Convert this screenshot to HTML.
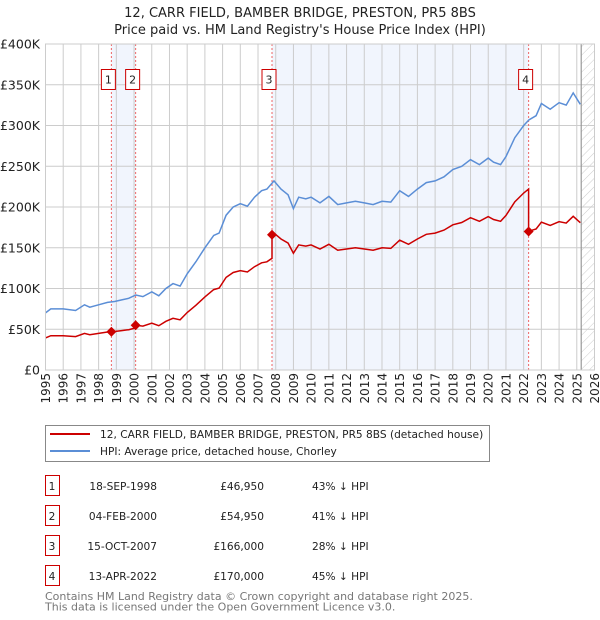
<!DOCTYPE html>
<html><head><meta charset="utf-8"><style>
html,body{margin:0;padding:0;background:#fff}
svg{display:block;font-family:"DejaVu Sans","Liberation Sans",sans-serif}
</style></head><body>
<svg id="chart" width="600" height="620" viewBox="0 0 600 620">
<defs>
<pattern id="hatch" width="6" height="6" patternUnits="userSpaceOnUse" patternTransform="rotate(45)">
<line x1="0" y1="0" x2="0" y2="6" stroke="#ccc" stroke-width="1"/>
</pattern>
</defs>
<text x="300" y="17" text-anchor="middle" font-size="13" fill="#222">12, CARR FIELD, BAMBER BRIDGE, PRESTON, PR5 8BS</text>
<text x="300" y="34" text-anchor="middle" font-size="13" fill="#222">Price paid vs. HM Land Registry's House Price Index (HPI)</text>
<g id="plot"></g>
<g>
<rect x="45.5" y="425.5" width="444" height="36" fill="#fff" stroke="#888"/>
<line x1="50" y1="434" x2="90" y2="434" stroke="#cc0000" stroke-width="2"/>
<text x="100" y="438" font-size="10.6" fill="#222">12, CARR FIELD, BAMBER BRIDGE, PRESTON, PR5 8BS (detached house)</text>
<line x1="50" y1="451" x2="90" y2="451" stroke="#5b8ed6" stroke-width="2"/>
<text x="100" y="455" font-size="10.6" fill="#222">HPI: Average price, detached house, Chorley</text>
</g>
<g id="table"></g>
<text x="45" y="600" font-size="11" fill="#777">Contains HM Land Registry data © Crown copyright and database right 2025.</text>
<text x="45" y="610.5" font-size="11" fill="#777">This data is licensed under the Open Government Licence v3.0.</text>
</svg>
<script>
const hpiYears = [1995.0,1995.3,1996.0,1996.7,1997.2,1997.5,1998.0,1998.5,1998.9,1999.3,1999.7,2000.1,2000.5,2001.0,2001.4,2001.8,2002.2,2002.6,2003.0,2003.5,2004.0,2004.5,2004.8,2005.2,2005.6,2006.0,2006.4,2006.8,2007.2,2007.5,2007.9,2008.3,2008.7,2009.0,2009.3,2009.7,2010.0,2010.5,2011.0,2011.5,2012.0,2012.5,2013.0,2013.5,2014.0,2014.5,2015.0,2015.5,2016.0,2016.5,2017.0,2017.5,2018.0,2018.5,2019.0,2019.5,2020.0,2020.3,2020.7,2021.0,2021.5,2022.0,2022.3,2022.7,2023.0,2023.5,2024.0,2024.4,2024.8,2025.2];
const hpiValues = [70,75,75,73,80,77,80,83,84,86,88,92,90,96,91,100,106,103,118,133,150,165,168,190,200,204,201,212,220,222,232,222,215,198,212,210,212,205,213,203,205,207,205,203,207,206,220,213,222,230,232,237,246,250,258,252,260,255,252,262,285,300,307,312,327,320,328,325,340,326];
const saleDates = [1998.72,2000.09,2007.79,2022.28];
const salePrices = [46950,54950,166000,170000];
const saleLabels = ["1","2","3","4"];
const saleDateText = ["18-SEP-1998","04-FEB-2000","15-OCT-2007","13-APR-2022"];
const salePriceText = ["£46,950","£54,950","£166,000","£170,000"];
const saleHpiText = ["43% ↓ HPI","41% ↓ HPI","28% ↓ HPI","45% ↓ HPI"];
const yTicks = [0,50,100,150,200,250,300,350,400];
const yTickLabels = ["£0","£50K","£100K","£150K","£200K","£250K","£300K","£350K","£400K"];
const xTicks = [1995,1996,1997,1998,1999,2000,2001,2002,2003,2004,2005,2006,2007,2008,2009,2010,2011,2012,2013,2014,2015,2016,2017,2018,2019,2020,2021,2022,2023,2024,2025,2026];
const dataEnd = 2025.25;

const NS="http://www.w3.org/2000/svg";
const L=45.5,R=594.5,T=44,B=370;
const X=t=>L+(t-1995)/(2026-1995)*(R-L);
const Y=v=>B-v/400*(B-T);
const plot=document.getElementById('plot');
function mk(tag,attrs,parent){const e=document.createElementNS(NS,tag);for(const k in attrs)e.setAttribute(k,attrs[k]);(parent||plot).appendChild(e);return e;}
function hpiAt(t){for(let i=0;i<hpiYears.length-1;i++){if(t<=hpiYears[i+1]){const f=(t-hpiYears[i])/(hpiYears[i+1]-hpiYears[i]);return hpiValues[i]+f*(hpiValues[i+1]-hpiValues[i]);}}return hpiValues[hpiValues.length-1];}

for(let i=0;i<saleDates.length;i+=2){
 const r=mk('rect',{x:X(saleDates[i]),y:T,width:X(saleDates[i+1])-X(saleDates[i]),height:B-T,fill:'#eef3fc',opacity:0.8});
 
 
}
const hr=mk('rect',{x:X(dataEnd),y:T,width:R-X(dataEnd),height:B-T,fill:'url(#hatch)'});


xTicks.forEach(t=>{const g=mk('line',{x1:X(t),x2:X(t),y1:T,y2:B,stroke:'#ccc','stroke-width':1});
 
 
 const tx=mk('text',{x:0,y:0,transform:`translate(${X(t)+4.5},${B+3}) rotate(-90)`,'text-anchor':'end','font-size':12,fill:'#222'});
 tx.textContent=t;
 
 
});
yTicks.forEach((v,i)=>{const g=mk('line',{x1:L,x2:R,y1:Y(v),y2:Y(v),stroke:'#ccc','stroke-width':1});
 
 
 const tx=mk('text',{x:40,y:Y(v)+4.5,'text-anchor':'end','font-size':12.5,fill:'#222'});
 tx.textContent=yTickLabels[i];
 
 
});
const el=mk('line',{x1:X(dataEnd),x2:X(dataEnd),y1:T,y2:B,stroke:'#999','stroke-width':1.2});


saleDates.forEach((d,i)=>{
 const ln=mk('line',{x1:X(d),x2:X(d),y1:T,y2:B,stroke:'#e66','stroke-width':1,'stroke-dasharray':'2,2'});
 
 
 const bx=mk('rect',{x:X(d)-10,y:69.5,width:14,height:20,fill:'#fff',stroke:'#c00'});
 
 
 const tx=mk('text',{x:X(d)-3,y:83.5,'text-anchor':'middle','font-size':11,fill:'#222'});
 tx.textContent=saleLabels[i];
 
 
});
let hp=hpiYears.map((t,i)=>`${X(t).toFixed(1)},${Y(hpiValues[i]).toFixed(1)}`).join(' ');
const hl=mk('polyline',{points:hp,fill:'none',stroke:'#5b8ed6','stroke-width':1.5});


function ratioAt(t){let k=0;for(let i=0;i<saleDates.length;i++)if(t>=saleDates[i])k=i;return salePrices[k]/1000/hpiAt(saleDates[k]);}
let pts=[];
let times=hpiYears.slice();
saleDates.forEach(d=>{times.push(d-0.001);times.push(d);});
times.sort((a,b)=>a-b);
times.forEach(t=>{pts.push(`${X(t).toFixed(1)},${Y(hpiAt(t)*ratioAt(t)).toFixed(1)}`);});
const pl=mk('polyline',{points:pts.join(' '),fill:'none',stroke:'#cc0000','stroke-width':1.5});


saleDates.forEach((d,i)=>{
 const x=X(d),y=Y(salePrices[i]/1000);
 const p=mk('polygon',{points:`${x},${y-5} ${x+5},${y} ${x},${y+5} ${x-5},${y}`,fill:'#cc0000'});
 
 
});
const ax=mk('rect',{x:L,y:T,width:R-L,height:B-T,fill:'none',stroke:'#ccc'});


const tb=document.getElementById('table');
saleDates.forEach((d,i)=>{
 const y0=475+i*30;
 const b=mk('rect',{x:45.5,y:y0+0.5,width:14,height:20,fill:'#fff',stroke:'#c00'},tb);
 
 
 const cells=[[52,'middle',saleLabels[i]],[157,'end',saleDateText[i]],[264,'end',salePriceText[i]],[312,'start',saleHpiText[i]]];
 cells.forEach(c=>{const t=mk('text',{x:c[0],y:y0+15,'text-anchor':c[1],'font-size':10.6,fill:'#222'},tb);t.textContent=c[2];
  
  });
});
</script>
</body></html>
